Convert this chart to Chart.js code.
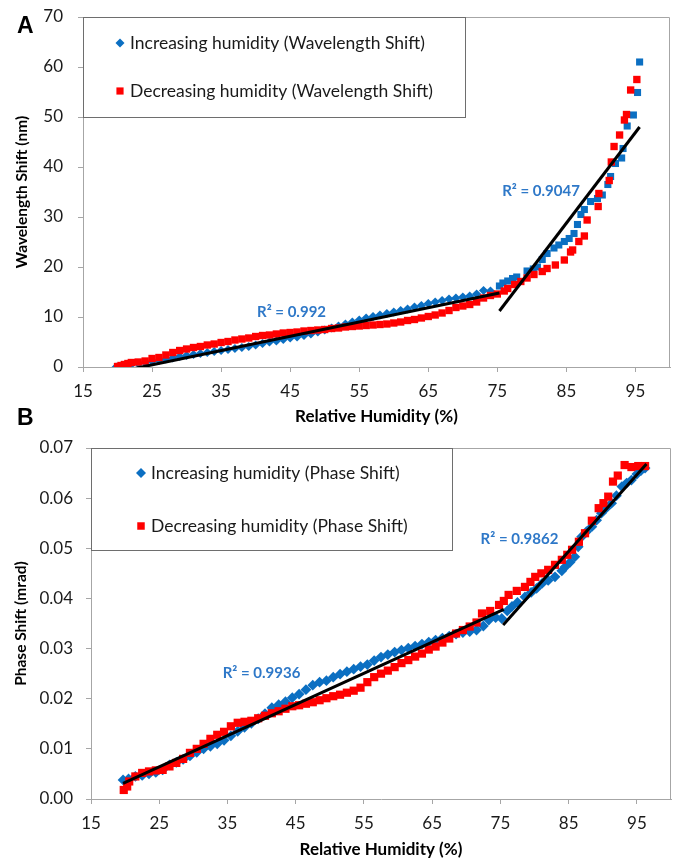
<!DOCTYPE html>
<html>
<head>
<meta charset="utf-8">
<script src="https://cdn.jsdelivr.net/npm/chart.js@4.4.0/dist/chart.umd.min.js"></script>
<style>
  html, body { margin: 0; padding: 0; background: #fff; }
  #wrap { position: relative; width: 679px; height: 862px; overflow: hidden; }
  canvas { position: absolute; left: 0; }
  #chartA { top: 0; }
  #chartB { top: 430px; }
  .panel { position: absolute; left: 17px; font: bold 23px "Liberation Sans", Arial, sans-serif; line-height: 22px; color: #000; z-index: 2; }
</style>
</head>
<body>
<div id="wrap">
  <canvas id="chartA" width="679" height="430"></canvas>
  <canvas id="chartB" width="679" height="432"></canvas>
  <div class="panel" style="top:14px">A</div>
  <div class="panel" style="top:406px">B</div>
</div>
<script>
// ---- values ----
const rhTicks = [15, 25, 35, 45, 55, 65, 75, 85, 95];
const wlTicks = [0, 10, 20, 30, 40, 50, 60, 70];
const phTicks = [0, 0.01, 0.02, 0.03, 0.04, 0.05, 0.06, 0.07];

// A - wavelength shift (nm)
const wlIncRh = [19.8, 20.5, 21, 22, 23, 24, 25, 26, 27, 28, 29, 30, 31, 32, 33, 34, 35, 36, 37, 38, 39, 40,
  41, 42, 43, 44, 45, 46, 47, 48, 49, 50, 51, 52, 53, 54, 55, 56, 57, 58, 59, 60, 61, 62, 63, 64, 65, 66, 67,
  68, 69, 70, 71, 72, 73, 74,
  75.3, 75.8, 76.5, 77.2, 77.8, 79.3, 80.2, 80.8, 81.5, 82.2, 83.2, 83.9, 84.7, 85.4, 86.1, 86.6, 87.1, 87.6,
  88.5, 89.5, 90.2, 91.0, 91.4, 92.1, 93.0, 93.2, 93.8, 94.7, 95.3, 95.6];
const wlInc = [0.0, 0.2, 0.3, 0.5, 0.7, 0.9, 1.1, 1.3, 1.6, 1.8, 2.1, 2.3, 2.5, 2.7, 2.9, 3.1, 3.3, 3.5, 3.7, 3.9,
  4.1, 4.4, 4.7, 5.0, 5.2, 5.5, 5.8, 6.0, 6.3, 6.6, 7.0, 7.4, 7.8, 8.2, 8.6, 9.0, 9.4, 9.8, 10.1, 10.4, 10.7,
  11.0, 11.3, 11.6, 12.0, 12.3, 12.7, 13.0, 13.3, 13.6, 13.8, 14.0, 14.2, 14.6, 15.3, 15.2,
  16.2, 16.8, 17.2, 17.7, 18.0, 19.2, 19.6, 20.0, 21.5, 22.7, 23.8, 24.4, 25.1, 25.7, 26.7, 28.5, 30.5, 31.5,
  33.1, 33.7, 34.4, 36.5, 38.1, 40.7, 41.8, 43.7, 48.2, 50.4, 54.9, 61.0];
const wlDecRh = [20, 20.5, 21, 21.5, 22, 23, 24, 25, 26, 27, 28, 29, 30, 31, 32, 33, 34, 35, 36, 37, 38, 39, 40,
  41, 42, 43, 44, 45, 46, 47, 48, 49, 50, 51, 52, 53, 54, 55, 56, 57, 58, 59, 60, 61, 62, 63, 64, 65, 66, 67,
  68, 69, 70, 71, 72, 73, 74, 75, 76,
  76.5, 77.5, 78.4, 79.3, 80.3, 81.5, 82.2, 83.4, 84.7, 85.6, 85.9, 86.8, 87.6, 88.0, 89.6, 89.7, 91.2, 91.5,
  91.9, 92.7, 93.4, 93.7, 94.3, 95.2];
const wlDec = [0.1, 0.3, 0.5, 0.7, 0.9, 1.0, 1.2, 1.7, 1.9, 2.4, 2.9, 3.3, 3.6, 3.9, 4.1, 4.4, 4.6, 4.9, 5.1,
  5.4, 5.6, 5.8, 6.1, 6.3, 6.4, 6.6, 6.8, 6.9, 7.0, 7.2, 7.3, 7.4, 7.5, 7.7, 7.8, 8.0, 8.1, 8.2, 8.3, 8.4,
  8.5, 8.6, 8.8, 9.0, 9.3, 9.5, 9.8, 10.1, 10.4, 10.8, 11.3, 11.9, 12.2, 12.5, 13.0, 13.8, 14.3, 14.6, 15.2,
  15.7, 16.5, 17.1, 17.8, 18.5, 19.1, 19.7, 20.4, 21.4, 23.0, 23.4, 25.1, 26.2, 29.4, 32.1, 34.7, 37.3, 41.0,
  44.1, 46.4, 49.4, 50.5, 55.4, 57.5];
const wlFitLowRh = [20, 75.3];
const wlFitLow = [-1.0, 14.8];
const wlFitHighRh = [75.3, 95.6];
const wlFitHigh = [11.2, 48.0];

// B - phase shift (mrad)
const phIncRh = [19.7, 20.5, 21.5, 22.5, 23.5, 24.5, 25.5, 26.5, 27.5, 28.5, 29.5, 30.5, 31.5, 32.5, 33.5,
  34.5, 35.5, 36.5, 37.5, 38.5, 39.5, 40.5, 41.5, 42.5, 43.5, 44.5, 45.5, 46.5, 47.5, 48.5, 49.5, 50.5, 51.5,
  52.5, 53.5, 54.5, 55.5, 56.5, 57.5, 58.5, 59.5, 60.5, 61.5, 62.5, 63.5, 64.5, 65.5, 66.5, 67.5, 68.5, 69.5,
  70.5, 71.5, 72.5,
  73.3, 74.3, 75.2, 76.0, 76.7, 77.5, 78.6, 79.5, 80.3, 81.1, 82.0, 83.0, 84.0, 84.5, 85.2, 85.9, 86.4, 86.9,
  87.6, 88.4, 89.1, 89.8, 90.5, 91.3, 92.0, 92.8, 93.5, 94.2, 95.0, 95.6, 96.2];
const phInc = [0.0038, 0.0040, 0.0045, 0.0047, 0.0050, 0.0053, 0.0058, 0.0068, 0.0073, 0.0079, 0.0086, 0.0093,
  0.0100, 0.0105, 0.0110, 0.0117, 0.0126, 0.0135, 0.0143, 0.0151, 0.0160, 0.0170, 0.0182, 0.0188, 0.0194,
  0.0202, 0.0209, 0.0218, 0.0227, 0.0233, 0.0236, 0.0243, 0.0249, 0.0254, 0.0259, 0.0264, 0.0268, 0.0276,
  0.0283, 0.0288, 0.0293, 0.0297, 0.0301, 0.0305, 0.0309, 0.0313, 0.0317, 0.0321, 0.0325, 0.0329, 0.0332,
  0.0334, 0.0337, 0.0345,
  0.0357, 0.0362, 0.0360, 0.0375, 0.0384, 0.0392, 0.0403, 0.0412, 0.0420, 0.0430, 0.0436, 0.0443, 0.0455,
  0.0463, 0.0472, 0.0483, 0.0503, 0.0523, 0.0533, 0.0543, 0.0556, 0.0570, 0.0580, 0.0590, 0.0605, 0.0623,
  0.0630, 0.0636, 0.0648, 0.0655, 0.0660];
const phDecRh = [19.8, 20.3, 20.6, 21.5, 22.5, 23.5, 24.5, 25.5, 26.5, 27.5, 28.5, 29.5, 30.5, 31.5, 32.5,
  33.5, 34.5, 35.5, 36.5, 37.5, 38.5, 39.5, 40.5, 41.5, 42.5, 43.5, 44.5, 45.5, 46.5, 47.5, 48.5, 49.5, 50.5,
  51.5, 52.5, 53.5, 54.5, 55.5, 56.5, 57.5, 58.5, 59.5, 60.5, 61.5, 62.5, 63.5, 64.5, 65.5, 66.5, 67.5, 68.5,
  69.5, 70.5, 71.5,
  72.3, 73.5, 74.8, 75.5, 76.2, 77.4, 78.6, 79.4, 80.1, 81.0, 82.0, 83.0, 84.0, 84.8, 85.5, 86.5, 87.4, 88.4,
  89.4, 90.1, 90.8, 91.5, 92.2, 93.2, 94.2, 95.2, 96.2];
const phDec = [0.0018, 0.0025, 0.0035, 0.0045, 0.0052, 0.0055, 0.0057, 0.0058, 0.0065, 0.0072, 0.0080, 0.0092,
  0.0100, 0.0110, 0.0120, 0.0128, 0.0134, 0.0145, 0.0152, 0.0154, 0.0156, 0.0161, 0.0166, 0.0171, 0.0175,
  0.0180, 0.0185, 0.0187, 0.0190, 0.0193, 0.0197, 0.0201, 0.0205, 0.0208, 0.0212, 0.0216, 0.0222, 0.0233,
  0.0243, 0.0250, 0.0256, 0.0263, 0.0271, 0.0277, 0.0284, 0.0290, 0.0298, 0.0304, 0.0312, 0.0320, 0.0330,
  0.0337, 0.0344, 0.0352,
  0.0370, 0.0375, 0.0387, 0.0395, 0.0407, 0.0415, 0.0423, 0.0433, 0.0443, 0.0450, 0.0457, 0.0467, 0.0477,
  0.0487, 0.0497, 0.0513, 0.0530, 0.0555, 0.0580, 0.0590, 0.0603, 0.0633, 0.0645, 0.0666, 0.0662, 0.0664,
  0.0664];
const phFitLowRh = [19.7, 75.5];
const phFitLow = [0.0031, 0.0378];
const phFitHighRh = [75.4, 96.4];
const phFitHigh = [0.0347, 0.0668];

// ---- styling ----
const BLUE = '#0b6fc2';
const RED = '#ff0000';
const R2_BLUE = '#2e78c8';
const AXIS = '#a6a6a6';
const TEXT = '#1a1a1a';
const FONT = 'Lato, "Open Sans", sans-serif';

const pts = (xs, ys) => xs.map((x, i) => ({ x: x, y: ys[i] }));

function marker(ctx, style, x, y, r) {
  ctx.beginPath();
  if (style === 'rectRot') {
    ctx.moveTo(x, y - r); ctx.lineTo(x + r, y); ctx.lineTo(x, y + r); ctx.lineTo(x - r, y);
  } else {
    ctx.rect(x - r * 0.78, y - r * 0.78, r * 1.56, r * 1.56);
  }
  ctx.closePath();
  ctx.fill();
}

// frame, R² notes and the boxed legend
const decor = {
  id: 'decor',
  afterDraw(chart, args, opts) {
    const { ctx, chartArea: a } = chart;
    const xs = chart.scales.x, ys = chart.scales.y;
    ctx.save();
    ctx.strokeStyle = AXIS;
    ctx.lineWidth = 1;
    ctx.beginPath();
    ctx.moveTo(a.left, a.top + 0.5);
    ctx.lineTo(a.right - 0.5, a.top + 0.5);
    ctx.lineTo(a.right - 0.5, a.bottom);
    ctx.stroke();

    ctx.font = 'bold 15px ' + FONT;
    ctx.fillStyle = R2_BLUE;
    ctx.textAlign = 'left';
    ctx.textBaseline = 'middle';
    opts.notes.forEach(n => ctx.fillText(n.text, xs.getPixelForValue(n.x), ys.getPixelForValue(n.y)));

    const L = opts.legend;
    ctx.fillStyle = '#fff';
    ctx.fillRect(a.left, a.top, L.w, L.h);
    ctx.strokeStyle = '#6e6e6e';
    ctx.strokeRect(a.left + 0.5, a.top + 0.5, L.w, L.h);
    ctx.font = '17.5px ' + FONT;
    L.items.forEach(it => {
      ctx.fillStyle = it.color;
      marker(ctx, it.style, a.left + L.mx, a.top + it.y, it.r);
      ctx.fillStyle = TEXT;
      ctx.fillText(it.text, a.left + L.tx, a.top + it.y);
    });
    ctx.restore();
  }
};

function fitLine(data) {
  return {
    data: data, showLine: true, borderColor: '#000', borderWidth: 3,
    pointRadius: 0, pointHoverRadius: 0, fill: false, order: 0
  };
}

function makeChart(id, p) {
  return new Chart(document.getElementById(id), {
    type: 'scatter',
    data: {
      datasets: [
        fitLine(p.fitLow),
        fitLine(p.fitHigh),
        {
          data: p.dec, pointStyle: 'rect', pointRadius: p.redR, pointBorderWidth: 0,
          backgroundColor: RED, borderColor: RED, order: 1
        },
        {
          data: p.inc, pointStyle: p.blueStyle, pointRadius: p.blueR, pointBorderWidth: 0,
          backgroundColor: BLUE, borderColor: BLUE, order: 2
        }
      ]
    },
    options: {
      responsive: false,
      animation: false,
      events: [],
      layout: { padding: { top: p.padTop, right: p.padRight, left: 0, bottom: 0 } },
      plugins: {
        legend: { display: false },
        tooltip: { enabled: false },
        decor: { notes: p.notes, legend: p.legend }
      },
      scales: {
        x: {
          type: 'linear', min: 15, max: 100,
          afterBuildTicks: s => { s.ticks = rhTicks.map(v => ({ value: v })); },
          afterFit: s => { s.height = 63; s.paddingLeft = 0; s.paddingRight = 0; },
          grid: { drawOnChartArea: false, tickLength: 5, color: AXIS },
          border: { color: AXIS },
          ticks: { font: { family: FONT, size: 17 }, color: TEXT, padding: 9 },
          title: {
            display: true, text: 'Relative Humidity (%)', color: '#000',
            font: { family: FONT, size: 17, weight: 'bold' }, padding: { top: 0, bottom: p.xTitlePad }
          }
        },
        y: {
          type: 'linear', min: p.yTicks[0], max: p.yTicks[p.yTicks.length - 1],
          afterBuildTicks: s => { s.ticks = p.yTicks.map(v => ({ value: v })); },
          afterFit: s => { s.width = p.yWidth; s.paddingTop = 0; s.paddingBottom = 0; },
          grid: { drawOnChartArea: false, tickLength: 5, color: AXIS },
          border: { color: AXIS },
          ticks: { font: { family: FONT, size: 17 }, color: TEXT, padding: p.yTickPad, callback: p.fmt },
          title: {
            display: true, text: p.yTitle, color: '#000',
            font: { family: FONT, size: 15.5, weight: 'bold' }, padding: { top: p.yTitlePad, bottom: 0 }
          }
        }
      }
    },
    plugins: [decor]
  });
}

makeChart('chartA', {
  inc: pts(wlIncRh, wlInc),
  dec: pts(wlDecRh, wlDec),
  fitLow: pts(wlFitLowRh, wlFitLow),
  fitHigh: pts(wlFitHighRh, wlFitHigh),
  blueStyle: c => (c.raw && c.raw.x > 75) ? 'rect' : 'rectRot',
  blueR: c => (c.raw && c.raw.x > 75) ? 5 : 4.6,
  redR: 5.2,
  yTicks: wlTicks,
  fmt: v => String(v),
  yTitle: 'Wavelength Shift (nm)',
  padTop: 17, padRight: 9, yWidth: 83,
  yTickPad: 15, yTitlePad: 13, xTitlePad: 3,
  notes: [
    { text: 'R² = 0.992', x: 40.2, y: 10.9 },
    { text: 'R² = 0.9047', x: 75.7, y: 35.1 }
  ],
  legend: {
    w: 382, h: 100, mx: 37, tx: 47,
    items: [
      { style: 'rectRot', color: BLUE, r: 4.5, y: 26, text: 'Increasing humidity (Wavelength Shift)' },
      { style: 'rect', color: RED, r: 4.6, y: 74, text: 'Decreasing humidity (Wavelength Shift)' }
    ]
  }
});

makeChart('chartB', {
  inc: pts(phIncRh, phInc),
  dec: pts(phDecRh, phDec),
  fitLow: pts(phFitLowRh, phFitLow),
  fitHigh: pts(phFitHighRh, phFitHigh),
  blueStyle: 'rectRot',
  blueR: 5.4,
  redR: 5.8,
  yTicks: phTicks,
  fmt: v => v.toFixed(2),
  yTitle: 'Phase Shift (mrad)',
  padTop: 18, padRight: 8, yWidth: 91,
  yTickPad: 13, yTitlePad: 12, xTitlePad: 2,
  notes: [
    { text: 'R² = 0.9936', x: 34.3, y: 0.0251 },
    { text: 'R² = 0.9862', x: 72.1, y: 0.0519 }
  ],
  legend: {
    w: 361, h: 102, mx: 50, tx: 60,
    items: [
      { style: 'rectRot', color: BLUE, r: 5, y: 25, text: 'Increasing humidity (Phase Shift)' },
      { style: 'rect', color: RED, r: 4.8, y: 78, text: 'Decreasing humidity (Phase Shift)' }
    ]
  }
});
</script>
</body>
</html>
